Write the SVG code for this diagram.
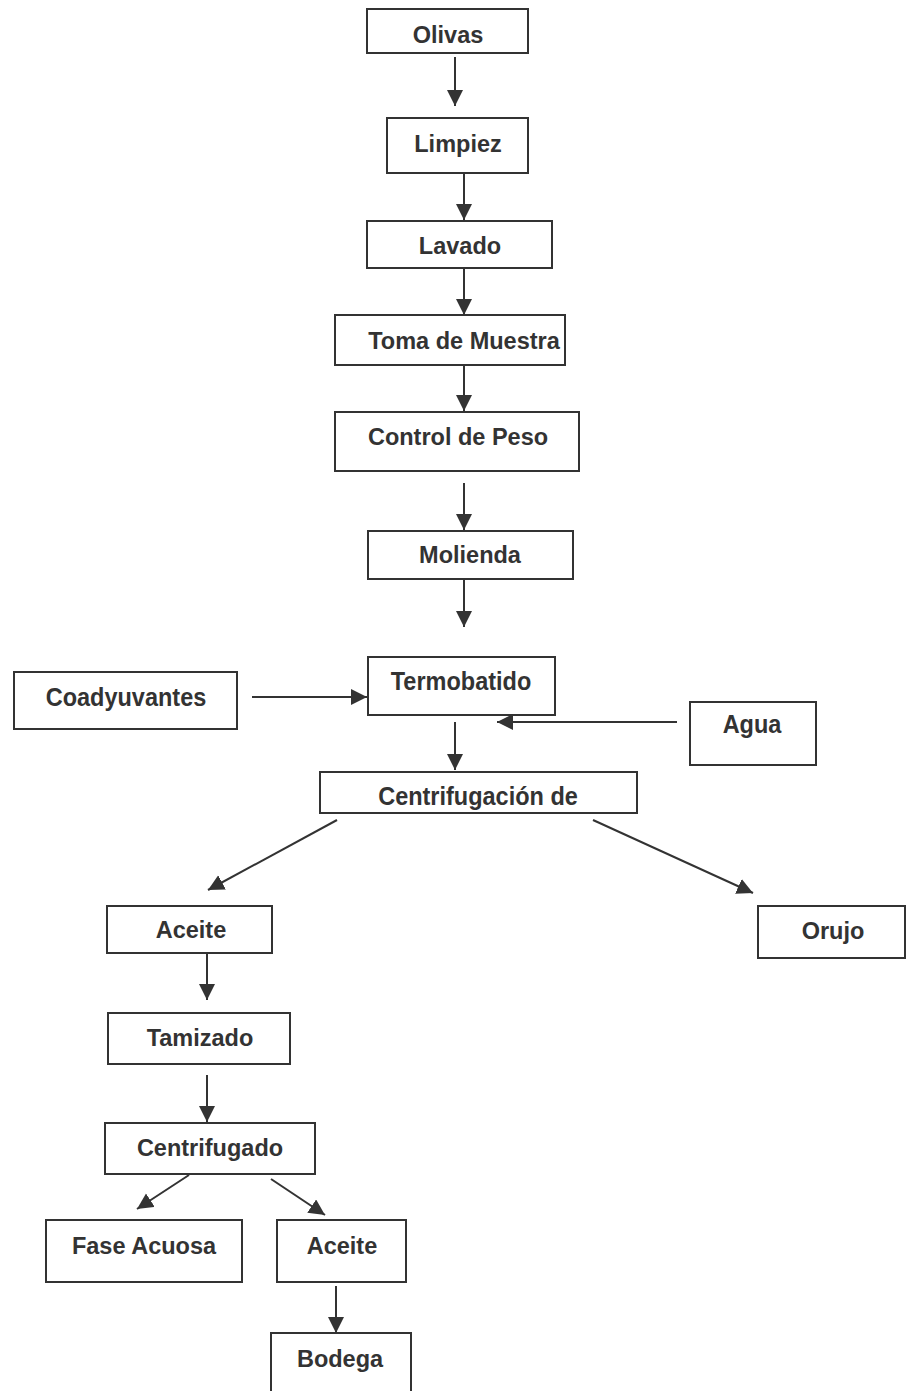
<svg xmlns="http://www.w3.org/2000/svg" width="906" height="1391" viewBox="0 0 906 1391">
  <style>
    .box { fill: #ffffff; stroke: #333333; stroke-width: 2; }
    .lbl { font-family: "Liberation Sans", Arial, sans-serif; font-weight: bold; font-size: 23.5px; fill: #333333; text-anchor: middle; }
    .edge { stroke: #333333; stroke-width: 2; fill: none; marker-end: url(#arrow); }
  </style>
  <defs>
    <marker id="arrow" markerUnits="userSpaceOnUse" markerWidth="17" markerHeight="17" refX="16" refY="8" orient="auto">
      <path d="M0,0 L16,8 L0,16 z" fill="#333333"/>
    </marker>
    <clipPath id="clipCentrif">
      <rect x="320" y="772" width="318" height="42"/>
    </clipPath>
  </defs>
  <rect width="906" height="1391" fill="#ffffff"/>

  <!-- process nodes -->
  <g id="olivas"><rect class="box" x="367" y="9" width="161" height="44"/><text class="lbl" x="448" y="43">Olivas</text></g>
  <g id="limpiez"><rect class="box" x="387" y="118" width="141" height="55"/><text class="lbl" x="458" y="152">Limpiez</text></g>
  <g id="lavado"><rect class="box" x="367" y="221" width="185" height="47"/><text class="lbl" x="460" y="254">Lavado</text></g>
  <g id="toma"><rect class="box" x="335" y="315" width="230" height="50"/><text class="lbl" x="464" y="349">Toma de Muestra</text></g>
  <g id="control"><rect class="box" x="335" y="412" width="244" height="59"/><text class="lbl" x="458" y="445">Control de Peso</text></g>
  <g id="molienda"><rect class="box" x="368" y="531" width="205" height="48"/><text class="lbl" x="470" y="563">Molienda</text></g>
  <g id="termobatido"><rect class="box" x="368" y="657" width="187" height="58"/><text class="lbl" transform="translate(461,690) scale(1,1.12)">Termobatido</text></g>
  <g id="coadyuvantes"><rect class="box" x="14" y="672" width="223" height="57"/><text class="lbl" transform="translate(126,706) scale(1,1.12)">Coadyuvantes</text></g>
  <g id="agua"><rect class="box" x="690" y="702" width="126" height="63"/><text class="lbl" transform="translate(752,733) scale(1,1.12)">Agua</text></g>
  <g id="centrifugacion"><rect class="box" x="320" y="772" width="317" height="41"/><g clip-path="url(#clipCentrif)"><text class="lbl" transform="translate(478,805) scale(1,1.12)">Centrifugación de</text></g></g>
  <g id="aceite1"><rect class="box" x="107" y="906" width="165" height="47"/><text class="lbl" x="191" y="938">Aceite</text></g>
  <g id="orujo"><rect class="box" x="758" y="906" width="147" height="52"/><text class="lbl" x="833" y="939">Orujo</text></g>
  <g id="tamizado"><rect class="box" x="108" y="1013" width="182" height="51"/><text class="lbl" x="200" y="1046">Tamizado</text></g>
  <g id="centrifugado"><rect class="box" x="105" y="1123" width="210" height="51"/><text class="lbl" x="210" y="1156">Centrifugado</text></g>
  <g id="fase-acuosa"><rect class="box" x="46" y="1220" width="196" height="62"/><text class="lbl" x="144" y="1254">Fase Acuosa</text></g>
  <g id="aceite2"><rect class="box" x="277" y="1220" width="129" height="62"/><text class="lbl" x="342" y="1254">Aceite</text></g>
  <g id="bodega"><rect class="box" x="271" y="1333" width="140" height="70"/><text class="lbl" x="340" y="1367">Bodega</text></g>

  <!-- flow arrows -->
  <g id="connectors">
    <line class="edge" x1="455" y1="57" x2="455" y2="106"/>
    <line class="edge" x1="464" y1="173" x2="464" y2="220"/>
    <line class="edge" x1="464" y1="268" x2="464" y2="315"/>
    <line class="edge" x1="464" y1="365" x2="464" y2="411"/>
    <line class="edge" x1="464" y1="483" x2="464" y2="530"/>
    <line class="edge" x1="464" y1="579" x2="464" y2="627"/>
    <line class="edge" x1="252" y1="697" x2="367" y2="697"/>
    <line class="edge" x1="677" y1="722" x2="497" y2="722"/>
    <line class="edge" x1="455" y1="722" x2="455" y2="770"/>
    <line class="edge" x1="337" y1="820" x2="208" y2="890"/>
    <line class="edge" x1="593" y1="820" x2="753" y2="893"/>
    <line class="edge" x1="207" y1="953" x2="207" y2="1000"/>
    <line class="edge" x1="207" y1="1075" x2="207" y2="1122"/>
    <line class="edge" x1="189" y1="1175" x2="137" y2="1209"/>
    <line class="edge" x1="271" y1="1179" x2="325" y2="1215"/>
    <line class="edge" x1="336" y1="1286" x2="336" y2="1333"/>
  </g>
</svg>
